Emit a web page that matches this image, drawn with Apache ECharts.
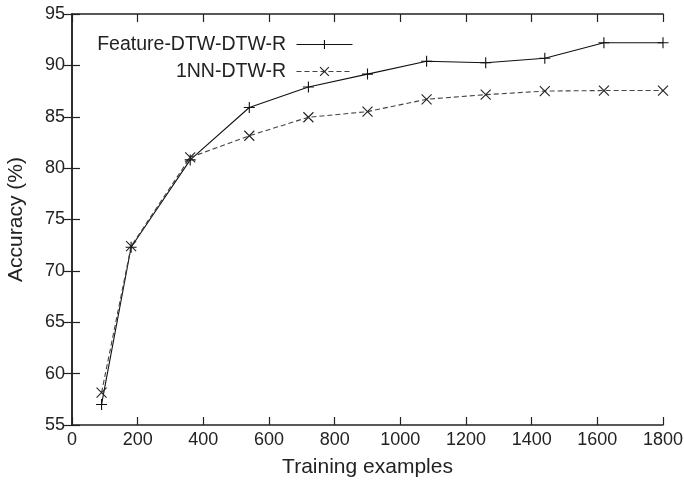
<!DOCTYPE html>
<html><head><meta charset="utf-8">
<script src="https://cdn.jsdelivr.net/npm/echarts@6/dist/echarts.min.js"></script>
<style>html,body{margin:0;padding:0;background:#fff}#c{width:684px;height:484px}</style>
</head><body><div id="c"></div>
<script>
const xValues = [90, 180, 360, 540, 720, 900, 1080, 1260, 1440, 1620, 1800];
const featureDTW = [57.0, 72.3, 80.8, 85.9, 87.9, 89.15, 90.4, 90.25, 90.7, 92.2, 92.2];
const nnDTW = [58.15, 72.4, 81.05, 83.15, 84.95, 85.5, 86.7, 87.15, 87.5, 87.55, 87.55];
const seriesNames = ['Feature-DTW-DTW-R', '1NN-DTW-R'];
const xTitle = 'Training examples';
const yTitle = 'Accuracy (%)';

const FONT = 'Liberation Sans';
const TXT = '#222';
const plus = 'path://M5,0 L5,10 M0,5 L10,5';
const cross = 'path://M0,0 L10,10 M10,0 L0,10';
const pair = (xs, ys) => xs.map((x, i) => [x, ys[i]]);

const axisLine = {show: true, lineStyle: {color: '#222', width: 1.5}};
const tick = {show: true, inside: true, length: 8, lineStyle: {color: '#222', width: 1.2}};
const legendText = {fontFamily: FONT, fontSize: 19.5, color: TXT};
const legendBase = {right: 331, padding: 0, align: 'right', itemWidth: 56, itemHeight: 11,
  formatter: n => n + ' ', textStyle: legendText,
  lineStyle: {width: 1.1}, itemStyle: {borderWidth: 1.1}};

const chart = echarts.init(document.getElementById('c'), null, {renderer: 'canvas'});
chart.setOption({
  animation: false,
  backgroundColor: '#fff',
  textStyle: {fontFamily: FONT},
  grid: {left: 72, right: 21, top: 14, bottom: 59, containLabel: false, outerBoundsMode: 'none'},
  legend: [
    Object.assign({data: [seriesNames[0]], top: 34.5}, legendBase),
    Object.assign({data: [seriesNames[1]], top: 61.5}, legendBase)
  ],
  xAxis: [
    {type: 'value', min: 0, max: 1800, interval: 200, position: 'bottom',
      name: xTitle, nameLocation: 'middle', nameGap: 32,
      nameTextStyle: {fontFamily: FONT, fontSize: 21, color: TXT},
      axisLine: axisLine, axisTick: tick, splitLine: {show: false},
      axisLabel: {fontFamily: FONT, fontSize: 18, color: TXT, margin: 6, formatter: v => String(v)}},
    {type: 'value', min: 0, max: 1800, interval: 200, position: 'top',
      axisLine: axisLine, axisTick: tick, splitLine: {show: false}, axisLabel: {show: false}}
  ],
  yAxis: [
    {type: 'value', min: 55, max: 95, interval: 5, position: 'left',
      name: yTitle, nameLocation: 'middle', nameGap: 45,
      nameTextStyle: {fontFamily: FONT, fontSize: 21, color: TXT},
      axisLine: axisLine, axisTick: tick, splitLine: {show: false},
      axisLabel: {fontFamily: FONT, fontSize: 18, color: TXT, margin: 7}},
    {type: 'value', min: 55, max: 95, interval: 5, position: 'right',
      axisLine: axisLine, axisTick: tick, splitLine: {show: false}, axisLabel: {show: false}}
  ],
  series: [
    {name: seriesNames[0], type: 'line', data: pair(xValues, featureDTW),
      symbol: plus, symbolSize: 11, showSymbol: true,
      lineStyle: {color: '#111', width: 1.1, type: 'solid'},
      itemStyle: {color: 'none', borderColor: '#111', borderWidth: 1.1}},
    {name: seriesNames[1], type: 'line', data: pair(xValues, nnDTW),
      symbol: cross, symbolSize: 10, showSymbol: true,
      lineStyle: {color: '#444', width: 1.1, type: [5, 3]},
      itemStyle: {color: 'none', borderColor: '#222', borderWidth: 1.1}}
  ]
});
</script></body></html>
